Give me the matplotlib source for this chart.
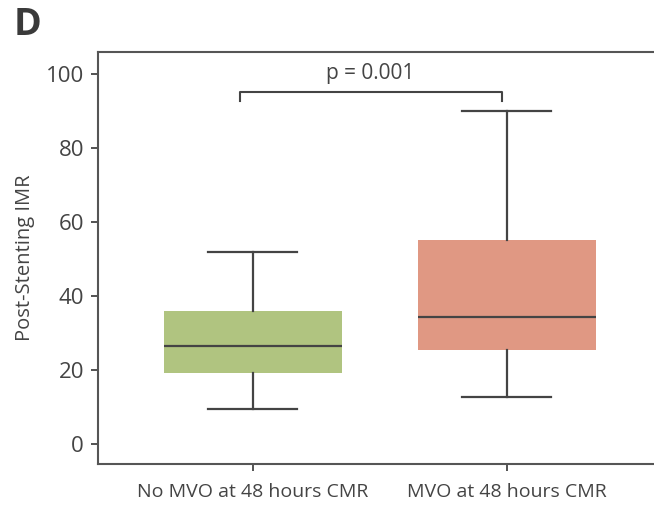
import matplotlib.pyplot as plt

groups = ['No MVO at 48 hours CMR', 'MVO at 48 hours CMR']
whislo = [9.4, 12.8]
q1 = [19.1, 25.4]
med = [26.4, 34.4]
q3 = [36.0, 55.1]
whishi = [51.9, 90.0]
colors = ['#b0c480', '#e09883']
p_text = 'p = 0.001'
bracket_y = 95.2

plt.rcParams['font.family'] = ['Open Sans', 'DejaVu Sans']
dark = '#444444'

fig = plt.figure(figsize=(6.54, 5.05), dpi=100)
ax = fig.add_axes([0.1498, 0.0812, 0.8502, 0.8158])

stats = []
for i in range(len(groups)):
    stats.append(dict(label=groups[i], whislo=whislo[i], q1=q1[i], med=med[i],
                      q3=q3[i], whishi=whishi[i], fliers=[]))

bp = ax.bxp(stats, positions=[0, 1], widths=0.7, patch_artist=True,
            showfliers=False,
            medianprops=dict(color=dark, lw=1.6),
            whiskerprops=dict(color=dark, lw=1.6),
            capprops=dict(color=dark, lw=1.6),
            boxprops=dict(lw=0))
for patch, c in zip(bp['boxes'], colors):
    patch.set_facecolor(c)
    patch.set_edgecolor(c)
for cap in bp['caps']:
    x = cap.get_xdata()
    mid = (x[0] + x[1]) / 2
    cap.set_xdata([mid - 0.175, mid + 0.175])

# significance bracket
ax.plot([-0.05, -0.05, 0.98, 0.98], [bracket_y - 2.6, bracket_y, bracket_y, bracket_y - 2.6],
        color=dark, lw=1.5)
ax.text(0.46, bracket_y + 2.0, p_text, ha='center', va='bottom', fontsize=15, color=dark)

ax.set_xlim(-0.61, 1.579)
ax.set_ylim(-5.4, 105.9)
ax.set_yticks([0, 20, 40, 60, 80, 100])
ax.set_xticks([0, 1])
ax.set_xticklabels(groups)
ax.tick_params(axis='y', labelsize=16, colors=dark, length=5, width=1.3, pad=5)
ax.tick_params(axis='x', labelsize=14, colors=dark, length=5, width=1.3, pad=9)
ax.set_ylabel('Post-Stenting IMR', fontsize=14.5, color=dark, labelpad=8)
for s in ['left', 'bottom', 'top']:
    ax.spines[s].set_color('#555555')
    ax.spines[s].set_linewidth(1.5)
ax.spines['right'].set_visible(False)

fig.text(0.021, 0.931, 'D', fontsize=27, fontweight='bold', color='#3a3a3a', va='baseline')

fig.savefig('out.png', dpi=100)
